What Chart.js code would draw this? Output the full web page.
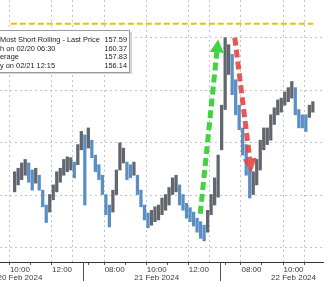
<!DOCTYPE html>
<html>
<head>
<meta charset="utf-8">
<script src="https://cdn.jsdelivr.net/npm/chart.js@4.4.1/dist/chart.umd.min.js"></script>
<style>
  html, body { margin: 0; padding: 0; background: #fff; }
  canvas { display: block; }
</style>
</head>
<body>
<canvas id="chart" width="324" height="281"></canvas>
<script>
"use strict";

// 10-minute bars: 20 Feb from 09:40, 21 Feb and 22 Feb from 06:30
const highs = [
    156.93, 156.97, 157.03, 157.07, 157.03, 156.95, 156.97, 156.89, 156.72, 156.55,
    156.67, 156.78, 156.93, 156.97, 157.07, 157.10, 157.09, 157.04, 157.24, 157.39,
    157.35, 157.43, 157.29, 157.12, 157.01, 156.89, 156.67, 156.55, 156.72, 156.95,
    157.26, 157.20, 157.04, 157.01, 157.04, 156.89, 156.72, 156.55, 156.46, 156.49,
    156.53, 156.55, 156.63, 156.67, 156.75, 156.86, 156.89, 156.78, 156.67, 156.57,
    156.52, 156.47, 156.40, 156.36, 156.32, 156.49, 156.67, 156.86, 157.12,
    157.69, 158.46, 158.38, 158.27, 157.98, 157.69, 157.43, 157.24, 156.97, 156.93,
    157.07, 157.29, 157.43, 157.43, 157.58, 157.66, 157.75, 157.77, 157.84, 157.89,
    157.96, 157.89, 157.64, 157.58, 157.58, 157.69, 157.73
];
const lows = [
    156.70, 156.78, 156.84, 156.89, 156.81, 156.72, 156.80, 156.72, 156.53, 156.35,
    156.47, 156.61, 156.70, 156.81, 156.89, 156.93, 156.95, 156.86, 157.01, 157.18,
    156.55, 157.20, 157.09, 156.93, 156.84, 156.67, 156.44, 156.30, 156.47, 156.67,
    156.95, 157.03, 156.84, 156.86, 156.89, 156.67, 156.53, 156.38, 156.29, 156.32,
    156.36, 156.38, 156.44, 156.49, 156.55, 156.67, 156.70, 156.55, 156.49, 156.40,
    156.36, 156.31, 156.24, 156.17, 156.14, 156.24, 156.44, 156.55, 156.64,
    157.18, 157.64, 158.04, 157.81, 157.58, 157.41, 157.12, 156.89, 156.63, 156.67,
    156.78, 156.95, 157.18, 157.24, 157.29, 157.47, 157.58, 157.61, 157.69, 157.73,
    157.77, 157.58, 157.43, 157.43, 157.39, 157.55, 157.61
];

const majorTicks = [2, 14, 29, 41, 53, 68, 80];
const majorLabels = ["10:00", "12:00", "08:00", "10:00", "12:00", "08:00", "10:00"];
const dateLabels = { 2: "20 Feb 2024", 41: "21 Feb 2024", 80: "22 Feb 2024" };
const minorTicks = [8, 23, 35, 47, 62, 74];
const sessionBreaks = [20, 59];
const gridPrices = [156.06, 156.66, 157.26, 157.86, 158.46];
const highLine = 158.62;

const greenArrow = [[53.4, 156.45], [58.5, 158.44]];
const redArrow = [[63.25, 158.46], [68.0, 156.92]];

const legendRows = [
    ["Most Short Rolling - Last Price", "157.59"],
    ["h on 02/20 06:30", "160.37"],
    ["erage", "157.83"],
    ["y on 02/21 12:15", "156.14"]
];

const X_MIN = -0.6;
const X_MAX = 85.6;
const FONT = "'Liberation Sans', Arial, sans-serif";

const barColors = highs.map((h, i) => {
    if (i === 0) return "#62676e";
    const mid = (h + lows[i]) / 2;
    const prev = (highs[i - 1] + lows[i - 1]) / 2;
    return mid < prev ? "#5b8fc3" : "#62676e";
});

function drawArrow(ctx, x0, y0, x1, y1, color, headLen, headW) {
    const ang = Math.atan2(y1 - y0, x1 - x0);
    const bx = x1 - headLen * Math.cos(ang);
    const by = y1 - headLen * Math.sin(ang);
    ctx.save();
    ctx.strokeStyle = color;
    ctx.lineWidth = 5;
    ctx.setLineDash([8, 4]);
    ctx.beginPath();
    ctx.moveTo(x0, y0);
    ctx.lineTo(bx, by);
    ctx.stroke();
    ctx.setLineDash([]);
    ctx.fillStyle = color;
    ctx.beginPath();
    ctx.moveTo(x1, y1);
    ctx.lineTo(bx + headW * Math.sin(ang), by - headW * Math.cos(ang));
    ctx.lineTo(bx - headW * Math.sin(ang), by + headW * Math.cos(ang));
    ctx.closePath();
    ctx.fill();
    ctx.restore();
}

const overlay = {
    id: "overlay",
    afterDraw(chart) {
        const { ctx, scales: { x, y }, chartArea } = chart;

        // session separators below the axis
        ctx.save();
        ctx.strokeStyle = "#555";
        ctx.lineWidth = 1;
        for (const v of sessionBreaks) {
            const px = Math.round(x.getPixelForValue(v)) + 0.5;
            ctx.beginPath();
            ctx.moveTo(px, chartArea.bottom);
            ctx.lineTo(px, chart.height);
            ctx.stroke();
        }
        ctx.restore();

        drawArrow(ctx,
            x.getPixelForValue(greenArrow[0][0]), y.getPixelForValue(greenArrow[0][1]),
            x.getPixelForValue(greenArrow[1][0]), y.getPixelForValue(greenArrow[1][1]),
            "rgba(45, 205, 45, 0.9)", 13, 7);
        drawArrow(ctx,
            x.getPixelForValue(redArrow[0][0]), y.getPixelForValue(redArrow[0][1]),
            x.getPixelForValue(redArrow[1][0]), y.getPixelForValue(redArrow[1][1]),
            "rgba(228, 70, 65, 0.9)", 14, 7);

        // legend box
        ctx.save();
        ctx.fillStyle = "#d4d4d4";
        ctx.fillRect(-2, 32, 134, 42);
        ctx.fillStyle = "#fff";
        ctx.fillRect(-2, 30, 132, 42);
        ctx.strokeStyle = "#9a9a9a";
        ctx.lineWidth = 1;
        ctx.strokeRect(-2.5, 30.5, 132, 42);
        ctx.font = "7.4px " + FONT;
        ctx.fillStyle = "#222";
        ctx.textBaseline = "middle";
        legendRows.forEach(([label, value], i) => {
            const ty = 40 + i * 8.7;
            ctx.textAlign = "left";
            ctx.fillText(label, 0, ty);
            ctx.textAlign = "right";
            ctx.fillText(value, 127, ty);
        });
        ctx.restore();
    }
};

const allTicks = [...majorTicks, ...minorTicks, ...sessionBreaks].sort((a, b) => a - b);

new Chart(document.getElementById("chart").getContext("2d"), {
    data: {
        datasets: [
            {
                type: "line",
                data: [{ x: X_MIN, y: highLine }, { x: X_MAX, y: highLine }],
                borderColor: "#e5bf16",
                borderWidth: 2,
                borderDash: [6, 3],
                pointRadius: 0
            },
            {
                type: "bar",
                data: highs.map((h, i) => ({ x: i + 0.5, y: [lows[i], h] })),
                backgroundColor: barColors,
                barThickness: 2.6,
                grouped: false
            }
        ]
    },
    options: {
        responsive: false,
        animation: false,
        layout: { padding: 0 },
        plugins: { legend: { display: false }, tooltip: { enabled: false } },
        scales: {
            x: {
                type: "linear",
                min: X_MIN,
                max: X_MAX,
                afterBuildTicks: (scale) => {
                    scale.ticks = allTicks.map((v) => ({ value: v }));
                },
                afterFit: (scale) => {
                    scale.paddingLeft = 0;
                    scale.paddingRight = 0;
                    scale.height = 19;
                },
                ticks: {
                    autoSkip: false,
                    maxRotation: 0,
                    minRotation: 0,
                    padding: 0,
                    color: "#3a3a3a",
                    font: { family: FONT, size: 8, lineHeight: 1.1 },
                    callback: (value) => {
                        const k = majorTicks.indexOf(value);
                        if (k < 0) return "";
                        return dateLabels[value] ? [majorLabels[k], dateLabels[value]] : majorLabels[k];
                    }
                },
                grid: {
                    color: (ctx) => minorTicks.includes(ctx.tick && ctx.tick.value) ? "rgba(0,0,0,0)" : "#c4c4c4",
                    tickColor: (ctx) => sessionBreaks.includes(ctx.tick && ctx.tick.value) ? "rgba(0,0,0,0)" : "#555",
                    tickLength: 3,
                    tickBorderDash: []
                },
                border: { display: true, color: "#333", width: 1, dash: [2, 3] }
            },
            y: {
                min: 155.90,
                max: 158.89,
                afterBuildTicks: (scale) => {
                    scale.ticks = gridPrices.map((v) => ({ value: v }));
                },
                ticks: { display: false },
                grid: { color: "#c4c4c4", drawTicks: false },
                border: { display: false, dash: [2, 3] }
            }
        }
    },
    plugins: [overlay]
});
</script>
</body>
</html>
